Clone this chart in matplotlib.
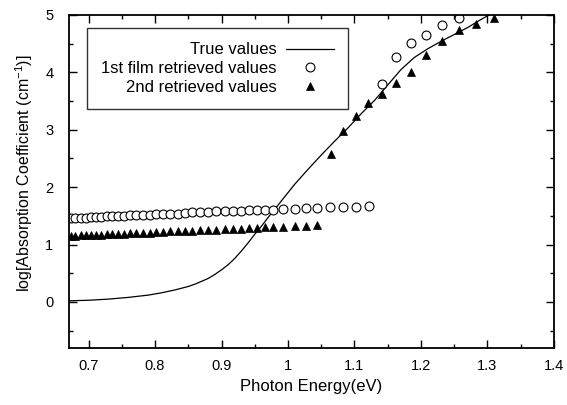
import matplotlib
matplotlib.use("Agg")
import matplotlib.pyplot as plt
from matplotlib.ticker import MultipleLocator, FuncFormatter

# 字体设置
plt.rcParams['font.family'] = ['Liberation Sans', 'DejaVu Sans']
plt.rcParams['mathtext.fontset'] = 'custom'
plt.rcParams['mathtext.rm'] = 'Liberation Sans'

# 真实值曲线
true_energy = [0.67, 0.70, 0.73, 0.76, 0.79, 0.81, 0.83, 0.85, 0.86, 0.87,
               0.88, 0.89, 0.90, 0.91, 0.92, 0.93, 0.94, 0.95, 0.96, 0.97,
               0.99, 1.01, 1.03, 1.05, 1.07, 1.09, 1.11, 1.13, 1.15, 1.17,
               1.19, 1.21, 1.23, 1.25, 1.27, 1.29, 1.31]
true_alpha = [0.02, 0.03, 0.05, 0.08, 0.12, 0.16, 0.21, 0.27, 0.31, 0.36,
              0.41, 0.48, 0.56, 0.65, 0.76, 0.89, 1.03, 1.18, 1.32, 1.47,
              1.76, 2.05, 2.31, 2.56, 2.80, 3.03, 3.28, 3.51, 3.78, 4.05,
              4.26, 4.41, 4.54, 4.66, 4.78, 4.92, 5.05]

# 第一组反演值 (圆圈)
film1_energy = [0.673, 0.680, 0.688, 0.696, 0.703, 0.711, 0.719, 0.727, 0.736, 0.745,
                0.754, 0.763, 0.772, 0.782, 0.792, 0.802, 0.812, 0.823, 0.834, 0.845,
                0.856, 0.868, 0.880, 0.892, 0.905, 0.917, 0.929, 0.941, 0.953, 0.966,
                0.978, 0.993, 1.010, 1.027, 1.044, 1.063, 1.082, 1.102, 1.122,
                1.142, 1.163, 1.185, 1.208, 1.232, 1.257]
film1_alpha = [1.46, 1.46, 1.47, 1.47, 1.48, 1.48, 1.48, 1.49, 1.49, 1.50,
               1.50, 1.51, 1.51, 1.52, 1.52, 1.53, 1.53, 1.54, 1.54, 1.55,
               1.56, 1.56, 1.57, 1.58, 1.58, 1.59, 1.59, 1.60, 1.60, 1.61,
               1.61, 1.62, 1.62, 1.63, 1.64, 1.65, 1.65, 1.66, 1.67,
               3.79, 4.27, 4.51, 4.66, 4.83, 4.94]

# 第二组反演值 (三角)
film2_energy = [0.673, 0.680, 0.688, 0.696, 0.703, 0.711, 0.719, 0.727, 0.736, 0.745,
                0.754, 0.763, 0.772, 0.782, 0.792, 0.802, 0.812, 0.823, 0.834, 0.845,
                0.856, 0.868, 0.880, 0.892, 0.905, 0.917, 0.929, 0.941, 0.953, 0.966,
                0.978, 0.993, 1.010, 1.027, 1.044,
                1.064, 1.082, 1.102, 1.121, 1.142, 1.163, 1.185, 1.208, 1.232, 1.257,
                1.283, 1.310]
film2_alpha = [1.15, 1.15, 1.16, 1.16, 1.17, 1.17, 1.17, 1.18, 1.18, 1.19,
               1.19, 1.20, 1.20, 1.21, 1.21, 1.22, 1.22, 1.23, 1.23, 1.24,
               1.24, 1.25, 1.26, 1.26, 1.27, 1.27, 1.28, 1.29, 1.29, 1.30,
               1.31, 1.31, 1.32, 1.33, 1.34,
               2.58, 2.98, 3.24, 3.47, 3.63, 3.81, 4.00, 4.30, 4.55, 4.73,
               4.84, 4.94]


def draw():
    fig = plt.figure(figsize=(5.67, 4.05), dpi=100)
    ax = fig.add_axes([0.121, 0.141, 0.856, 0.822])

    ax.plot(true_energy, true_alpha, color='black', lw=0.9, label='True values')
    ax.plot(film1_energy, film1_alpha, ls='none', marker='o', ms=6.4,
            mfc='white', mec='black', mew=0.8, label='1st film retrieved values')
    ax.plot(film2_energy, film2_alpha, ls='none', marker='^', ms=5.2,
            mfc='black', mec='black', mew=0.5, label='2nd retrieved values')

    ax.set_xlim(0.67, 1.4)
    ax.set_ylim(-0.8, 5)

    # 刻度设置
    ax.xaxis.set_major_locator(MultipleLocator(0.1))
    ax.xaxis.set_minor_locator(MultipleLocator(0.05))
    ax.yaxis.set_major_locator(MultipleLocator(1))
    ax.yaxis.set_minor_locator(MultipleLocator(0.5))
    ax.xaxis.set_major_formatter(FuncFormatter(lambda v, p: '%g' % round(v, 2)))
    ax.yaxis.set_major_formatter(FuncFormatter(lambda v, p: '%g' % round(v, 2)))
    ax.tick_params(which='both', direction='in', top=True, right=True,
                   labelsize=10.5)
    ax.tick_params(axis='x', which='major', pad=8)
    ax.tick_params(axis='y', which='major', pad=11)
    ax.tick_params(which='major', length=6, width=1)
    ax.tick_params(which='minor', length=3, width=1)
    for s in ax.spines.values():
        s.set_linewidth(1.3)

    ax.set_xlabel('Photon Energy(eV)', fontsize=12, labelpad=4)
    ax.set_ylabel('log[Absorption Coefficient (cm$^{-1}$)]', fontsize=11.5)
    ax.yaxis.set_label_coords(-0.069, 0.525)

    leg = ax.legend(loc='upper left', bbox_to_anchor=(0.0375, 0.96),
                    borderaxespad=0, markerfirst=False, numpoints=1,
                    fontsize=12, handlelength=2.85, handletextpad=0.6,
                    labelspacing=0.22, borderpad=0.85, fancybox=False)
    leg.get_frame().set_edgecolor('black')
    leg.get_frame().set_linewidth(1.0)

    fig.savefig('out.png', dpi=100)


if __name__ == '__main__':
    draw()
